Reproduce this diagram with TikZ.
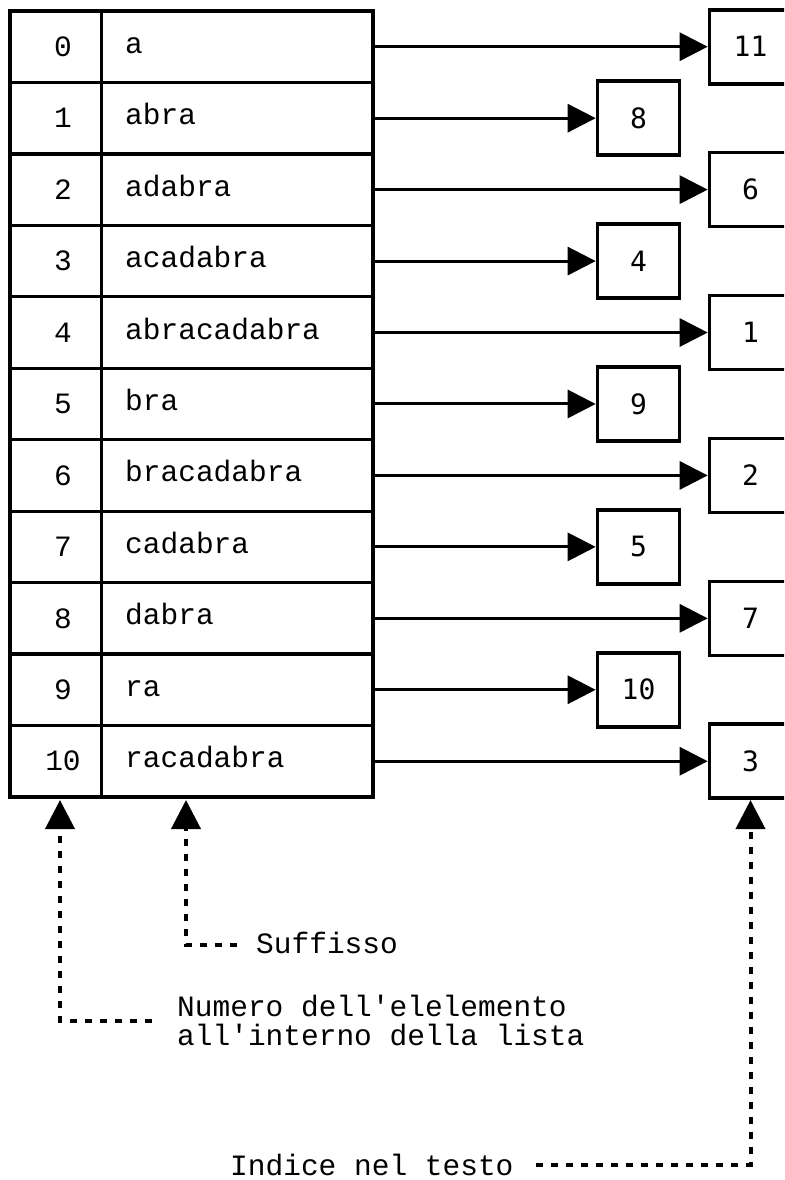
\documentclass[tikz,border=0pt]{standalone}
\usepackage{fontspec}
\newfontfamily\courfont[Ligatures=TeXOff]{Liberation Mono}
\newfontfamily\numfont{DejaVu Sans Mono}
\usetikzlibrary{arrows.meta}
\begin{document}
\begin{tikzpicture}[x=1pt,y=-1pt,
  cell/.style={draw, line width=3.3pt, inner sep=0pt, outer sep=0pt, minimum height=71.45pt},
  tabtext/.style={inner sep=0pt, font=\courfont\fontsize{29.5}{30}\selectfont},
  valbox/.style={draw, line width=3.6pt, inner sep=0pt, minimum width=82pt, minimum height=74pt,
    font=\numfont\fontsize{28}{29}\selectfont},
  arr/.style={line width=3pt, -{Triangle[length=28pt,width=28pt]}},
  dotarr/.style={line width=4pt, dash pattern=on 7pt off 8pt, -{Triangle[length=29pt,width=29pt]}},
  lbl/.style={inner sep=0pt, font=\courfont\fontsize{29.5}{29}\selectfont, align=left}]
\useasboundingbox (0,0) rectangle (784,1180);
\clip (0,0) rectangle (784,1180);
\foreach \i/\nm/\val in {0/a/11, 1/abra/8, 2/adabra/6, 3/acadabra/4, 4/abracadabra/1,
  5/bra/9, 6/bracadabra/2, 7/cadabra/5, 8/dabra/7, 9/ra/10, 10/racadabra/3} {
  \pgfmathsetmacro\cy{11+71.45*(\i+0.5)}
  \pgfmathsetmacro\bx{mod(\i,2)==1 ? 638.5 : 750.5}
  \node[cell, minimum width=91.5pt, anchor=west] (idx\i) at (10,\cy) {};
  \node[cell, minimum width=271.5pt, anchor=west] (nm\i) at (101.5,\cy) {};
  \node[tabtext] (it\i) at (63,\cy) {\i};
  \node[tabtext, anchor=base west] (nt\i) at (125,\cy+6.5) {\nm};
  \node[valbox] (b\i) at (\bx,\cy) {\val};
  \draw[arr] (nm\i.east) -- (b\i.west);
}
\coordinate (tipL) at (60,800);
\coordinate (tipS) at (186,800);
\node[lbl, anchor=base west] (suf) at (256,953) {Suffisso};
\node[lbl, anchor=west] (num) at (177,1020.5) {Numero dell'elelemento\\all'interno della lista};
\node[lbl, anchor=base west] (ind) at (230,1175) {Indice nel testo};
\draw[dotarr] ([xshift=-25pt]num.west) -| (tipL);
\draw[dotarr] ([xshift=-19pt,yshift=-3pt]suf.west) -| (tipS);
\draw[dotarr] ([xshift=22pt]ind.east) -| (b10.south);
\end{tikzpicture}
\end{document}
